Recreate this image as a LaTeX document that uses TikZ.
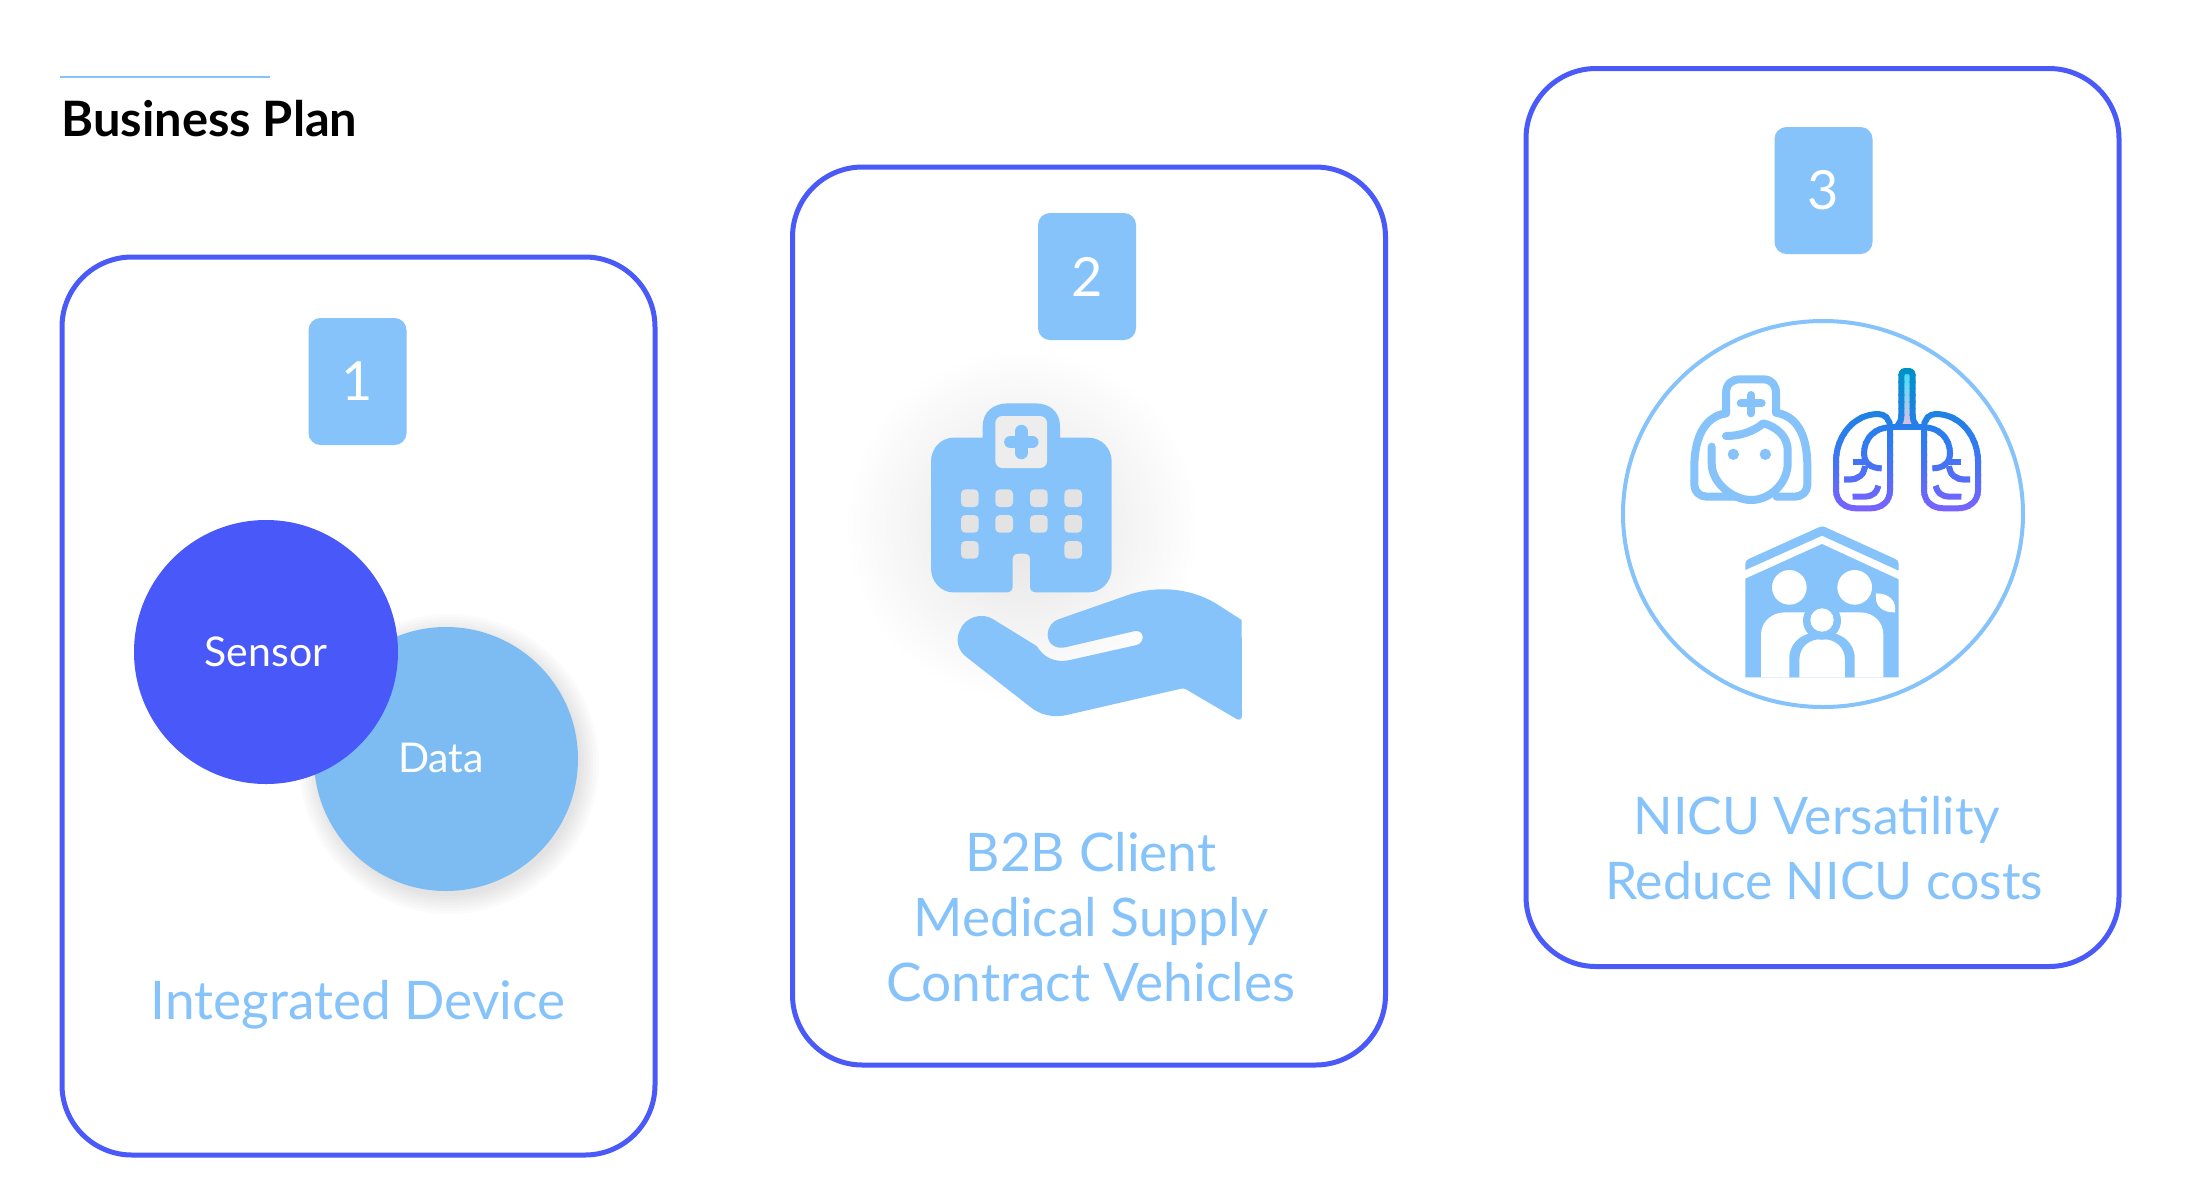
\documentclass[tikz,border=0pt]{standalone}
\usepackage{fontspec}
\setmainfont{Lato}
\definecolor{cardblue}{HTML}{4A5AF8}
\definecolor{skyb}{HTML}{85C3FA}
\definecolor{datab}{HTML}{7DBCF3}
\definecolor{sensorb}{HTML}{4858F9}
\definecolor{lunga}{HTML}{0090C8}
\definecolor{lungb}{HTML}{2F7BF0}
\definecolor{lungc}{HTML}{7A62FF}
\tikzset{
  card/.style={draw=cardblue,line width=2.5pt,rounded corners=35pt,fill=white,minimum width=296.5pt,minimum height=449pt,inner sep=0pt},
  badge/.style={fill=skyb,rounded corners=6pt,minimum width=49pt,minimum height=63.5pt,inner sep=0pt,text=white,font=\fontsize{27}{30}\selectfont},
  blob/.style={circle,minimum size=132pt,inner sep=0pt,text=white,font=\fontsize{20.5}{24}\selectfont},
  caption/.style={text=skyb,anchor=base,align=center,inner sep=0pt,font=\fontsize{26.6}{32.3}\selectfont},
  captionb/.style={caption,font=\fontsize{25.9}{32.3}\selectfont},
  nurseline/.style={draw=skyb,line width=4pt,line cap=round,line join=round},
  lungline/.style={line width=3pt,line cap=butt,line join=round},
}
\newcommand{\halflung}{%
  \draw[lungline] (870,262) .. controls (870,238) and (855,222) .. (835,222)
    .. controls (760,222) and (708,290) .. (708,365) -- (708,450)
    .. controls (708,485) and (735,505) .. (770,505) -- (810,505)
    .. controls (845,505) and (870,485) .. (870,450) -- cycle;
  \draw[lungline] (870,262) .. controls (825,262) and (792,295) .. (792,340)
    .. controls (792,368) and (812,385) .. (845,385);
  \draw[lungline] (758,367) -- (800,367);
  \draw[lungline] (795,378) .. controls (792,405) and (775,418) .. (750,418) -- (732,418);
  \draw[lungline] (835,437) .. controls (832,458) and (815,470) .. (795,470) -- (758,470);
}
\newcommand{\lungall}{%
  \draw[lungline] (888,262) .. controls (900,250) and (904,240) .. (904,225) -- (904,105)
    .. controls (904,97) and (908,93) .. (914,93) -- (928,93)
    .. controls (934,93) and (938,97) .. (938,105) -- (938,225)
    .. controls (938,240) and (942,250) .. (954,262);
  \draw[lungline] (870,262) -- (972,262);
  \halflung
  \begin{scope}[shift={(1842,0)},xscale=-1]\halflung\end{scope}
}
\begin{document}
\begin{tikzpicture}[x=0.5pt,y=-0.5pt]
\useasboundingbox (0,0) rectangle (2208,1180);
\fill[white] (0,0) rectangle (2208,1180);
% title
\coordinate (ruleL) at (60,77);
\coordinate (ruleR) at (270,77);
\draw[skyb,line width=1.2pt] (ruleL) -- (ruleR);
\node[anchor=base west,inner sep=0pt,text=black,font=\fontsize{24.4}{28}\selectfont\bfseries] (title) at (61,136) {Business Plan};
% cards
\node[card] (card1) at (358.5,706) {};
\node[card] (card2) at (1089,616) {};
\node[card] (card3) at (1822.5,517.5) {};
% hospital shadow, under the badge
\shade[inner color=black!11,outer color=white] (1022,525) circle (178);
\node[badge] (badge1) at (357.5,381.5) {1};
\node[badge] (badge2) at (1087,276.5) {2};
\node[badge] (badge3) at (1823.5,190.5) {3};
% venn
\foreach \r in {150,147,...,132}{\fill[black,opacity=0.014] (449,764) circle (\r);}
\node[blob,fill=datab] (data) at (446,759) {};
\node[blob,fill=sensorb] (sensor) at (266,652) {Sensor};
\node[text=white,inner sep=0pt,font=\fontsize{20.5}{24}\selectfont] (datalabel) at (441,758) {Data};
% hospital
\begin{scope}[shift={(880,380)},x=0.16667pt,y=-0.16667pt]
\fill[skyb] (220,173) -- (308,173) -- (308,140)
  .. controls (308,95) and (340,70) .. (385,70) -- (465,70)
  .. controls (510,70) and (540,95) .. (540,140) -- (540,173) -- (625,173)
  .. controls (665,173) and (695,205) .. (695,245) -- (695,565)
  .. controls (695,605) and (665,637) .. (625,637) -- (468,637)
  .. controls (457,637) and (450,630) .. (450,620) -- (450,537)
  .. controls (450,527) and (444,521) .. (434,521) -- (414,521)
  .. controls (404,521) and (398,527) .. (398,537) -- (398,620)
  .. controls (398,630) and (391,637) .. (380,637) -- (220,637)
  .. controls (183,637) and (153,605) .. (153,565) -- (153,245)
  .. controls (153,205) and (183,173) .. (220,173) -- cycle;
\fill[black!7,rounded corners=3.5pt] (346,108) rectangle (501,264);
\draw[skyb,line width=6.2pt,line cap=round] (424,153) -- (424,219) (391,186) -- (457,186);
\foreach \wx/\wy in {243/328,346/328,450/328,553/328,243/405,346/405,450/405,553/405,243/483,553/483}{
  \fill[black!11,rounded corners=2.2pt] (\wx,\wy) rectangle ++(53,53);
}
\fill[skyb] (1085,720) -- (1086,1010) .. controls (1086,1018) and (1078,1021) .. (1070,1017)
  -- (918,928) .. controls (912,925) and (908,925) .. (903,926)
  -- (560,1005) .. controls (520,1014) and (480,1005) .. (450,980)
  -- (258,830) .. controls (235,812) and (225,780) .. (240,750)
  .. controls (255,712) and (305,695) .. (340,718)
  -- (470,798) .. controls (490,830) and (520,850) .. (570,840)
  -- (770,795) .. controls (795,788) and (795,750) .. (765,753)
  -- (555,802) .. controls (525,808) and (503,790) .. (503,765)
  .. controls (503,740) and (518,724) .. (535,718)
  -- (730,650) .. controls (820,615) and (930,620) .. (1015,675) -- cycle;
\end{scope}
% third card icons
\draw[skyb,line width=2pt] (1823,514) ellipse (200 and 193);
\begin{scope}[shift={(1600,340)},x=0.16667pt,y=-0.16667pt]
% nurse
\draw[nurseline] (378,220) -- (378,160) .. controls (378,132) and (395,118) .. (420,118) -- (490,118)
  .. controls (515,118) and (528,135) .. (528,160) -- (528,218);
\draw[nurseline] (528,218) .. controls (600,230) and (622,300) .. (622,380) -- (622,435)
  .. controls (622,455) and (605,470) .. (585,470) -- (530,470);
\draw[nurseline] (378,220) .. controls (310,230) and (283,300) .. (283,380) -- (283,435)
  .. controls (283,455) and (300,470) .. (320,470) -- (410,470);
\draw[nurseline] (335,320) -- (335,370) .. controls (335,430) and (400,480) .. (453,480)
  .. controls (510,480) and (563,430) .. (563,370) -- (563,330)
  .. controls (563,290) and (530,260) .. (490,250) .. controls (460,275) and (420,288) .. (378,288);
\draw[nurseline] (453,165) -- (453,220) (422,190) -- (485,190);
\fill[skyb] (400,343) circle (17) (496,343) circle (17);
% lungs
\shade[top color=cyan!45!skyb,bottom color=violet!25!white] (912,102) -- (930,102) -- (930,225) .. controls (930,240) and (935,250) .. (942,258) -- (900,258) .. controls (907,250) and (912,240) .. (912,225) -- cycle;
\foreach \i in {0,...,10}{
  \pgfmathsetmacro{\yy}{84+20*\i}
  \pgfmathsetmacro{\pc}{100-10*\i}
  \colorlet{bandc}{lunga!\pc!lungb}
  \begin{scope}
    \clip (600,\yy) rectangle (1240,\yy+22);
    \begin{scope}[draw=bandc]\lungall\end{scope}
  \end{scope}
}
\foreach \i in {0,...,10}{
  \pgfmathsetmacro{\yy}{304+20*\i}
  \pgfmathsetmacro{\pc}{100-10*\i}
  \colorlet{bandc}{lungb!\pc!lungc}
  \begin{scope}
    \clip (600,\yy) rectangle (1240,\yy+22);
    \begin{scope}[draw=bandc]\lungall\end{scope}
  \end{scope}
}
% house
\fill[skyb] (436,690) -- (436,672) .. controls (436,664) and (440,660) .. (446,657) -- (656,562)
  .. controls (663,558) and (670,558) .. (677,562) -- (886,657) .. controls (892,660) and (896,664) .. (896,672) -- (896,692) -- (666,587) -- cycle;
\fill[skyb] (436,716) -- (666,612) -- (896,718) -- (896,1012) -- (436,1012) -- cycle;
\fill[white] (568,742) circle (52) (764,742) circle (52);
\fill[white] (483,1012) -- (483,885) .. controls (483,845) and (515,817) .. (555,817) -- (780,817)
  .. controls (820,817) and (850,845) .. (850,885) -- (850,1012) -- cycle;
\fill[white] (828,760) .. controls (870,760) and (890,785) .. (885,817) .. controls (850,818) and (822,800) .. (828,760) -- cycle;
\fill[skyb] (568,1012) -- (568,955) .. controls (568,905) and (610,875) .. (666,875)
  .. controls (722,875) and (764,905) .. (764,955) -- (764,1012) -- (735,1012) -- (735,960)
  .. controls (735,920) and (705,897) .. (666,897) .. controls (627,897) and (598,920) .. (598,960) -- (598,1012) -- cycle;
\fill[skyb] (666,842) circle (57);
\fill[white] (666,840) circle (35);
\end{scope}
% captions
\node[caption] (cap1) at (358,1019) {Integrated Device};
\node[caption] (cap2) at (1091,1001) {B2B Client\\Medical Supply\\Contract Vehicles};
\node[captionb] (cap3a) at (1817,834) {NICU Versatility};
\node[captionb] (cap3b) at (1824,899) {Reduce NICU costs};
\end{tikzpicture}
\end{document}
